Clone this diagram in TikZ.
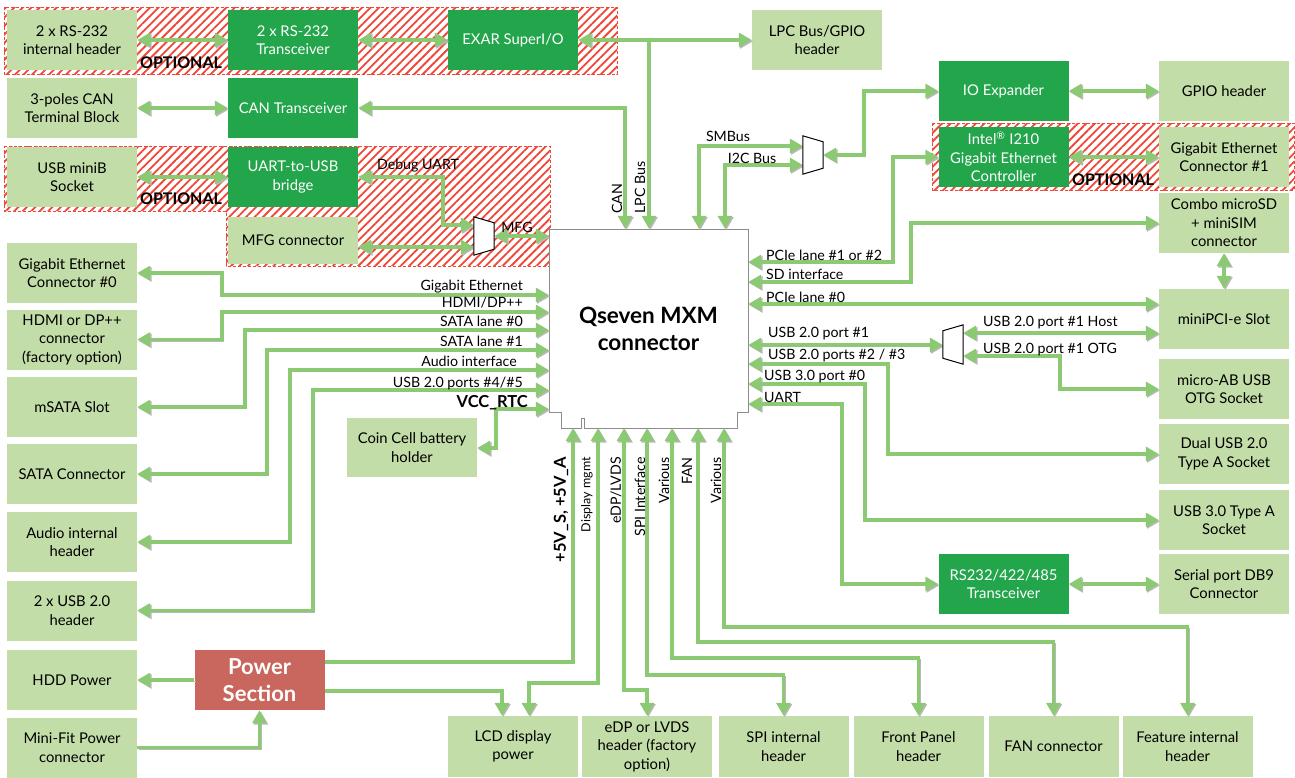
\documentclass[tikz,border=0pt]{standalone}
\usepackage{fontspec}
\setmainfont{Lato}
\usetikzlibrary{arrows.meta,patterns.meta}
\definecolor{lbox}{RGB}{195,221,168}
\definecolor{dbox}{RGB}{34,165,75}
\definecolor{agreen}{RGB}{140,201,115}
\definecolor{pred}{RGB}{201,102,94}
\definecolor{hred}{RGB}{240,70,55}
\tikzset{
 box/.style={minimum width=130pt, minimum height=60pt, inner sep=1pt, align=center, font=\fontsize{14.8}{18.5}\selectfont},
 lbx/.style={box, fill=lbox},
 dbx/.style={box, fill=dbox, text=white},
 conn/.style={draw=agreen, line width=3.6pt, preaction={draw=black!28, transform canvas={shift={(1.3,1.3)}}}},
 hatch/.style={pattern={Lines[angle=45,distance=6pt,line width=1.8pt]}, pattern color=hred},
 hatchborder/.style={draw=hred, dash pattern=on 3pt off 2pt, line width=1pt},
 muxs/.style={draw=black, line width=1pt, fill=white},
 lbl/.style={font=\fontsize{14.2}{16}\selectfont, inner sep=0pt},
 slbl/.style={font=\fontsize{12.5}{14}\selectfont, inner sep=0pt},
 blbl/.style={font=\fontsize{16.5}{18}\selectfont\bfseries, inner sep=0pt},
 opt/.style={font=\fontsize{16}{16}\selectfont\bfseries, inner sep=0pt},
}
\begin{document}
\begin{tikzpicture}[x=1pt,y=-1pt, >={Triangle[length=13pt,width=14pt]}]
\useasboundingbox (0,0) rectangle (1295,777);

% optional (hatched) regions
\path[hatch] (4,7) rectangle (617,74);
\path[hatch] (4,146) -- (550,146) -- (550,266) -- (226,266) -- (226,211) -- (4,211) -- cycle;
\path[hatch] (932,123) rectangle (1294,190);
\path[hatchborder] (4,7) rectangle (617,74);
\path[hatchborder] (4,146) -- (550,146) -- (550,266) -- (226,266) -- (226,211) -- (4,211) -- cycle;
\path[hatchborder] (932,123) rectangle (1294,190);

% left column
\node[lbx] (rsint) at (72,40) {2 x RS-232\\internal header};
\node[lbx] (canblk) at (72,108) {3-poles CAN\\Terminal Block};
\node[lbx] (usbminib) at (72,177) {USB miniB\\Socket};
\node[lbx] (gbe0) at (72,273) {Gigabit Ethernet\\Connector \#0};
\node[lbx] (hdmi) at (72,339.5) {HDMI or DP++\\connector\\(factory option)};
\node[lbx] (msata) at (72,407) {mSATA Slot};
\node[lbx] (sata) at (72,474) {SATA Connector};
\node[lbx] (audio) at (72,542) {Audio internal\\header};
\node[lbx] (usb2hdr) at (72,610.5) {2 x USB 2.0\\header};
\node[lbx] (hdd) at (72,680) {HDD Power};
\node[lbx] (minifit) at (72,747.5) {Mini-Fit Power\\connector};

% second column
\node[dbx] (rstr) at (293,40) {2 x RS-232\\Transceiver};
\node[dbx] (cantr) at (293,108) {CAN Transceiver};
\node[dbx] (bridge) at (293,177) {UART-to-USB\\bridge};
\node[lbx, minimum height=47pt] (mfgconn) at (293,240) {MFG connector};
\node[dbx] (exar) at (513,40) {EXAR SuperI/O};

% right side
\node[lbx] (lpchdr) at (817,40) {LPC Bus/GPIO\\header};
\node[dbx] (ioexp) at (1003.5,91) {IO Expander};
\node[lbx] (gpio) at (1224,91) {GPIO header};
\node[dbx] (intel) at (1003.5,157) {Intel\textsuperscript{®} I210\\Gigabit Ethernet\\Controller};
\node[lbx] (gbe1) at (1224,157) {Gigabit Ethernet\\Connector \#1};
\node[lbx] (combo) at (1224,223) {Combo microSD\\+ miniSIM\\connector};
\node[lbx] (minipci) at (1224,319) {miniPCI-e Slot};
\node[lbx] (microab) at (1224,389) {micro-AB USB\\OTG Socket};
\node[lbx] (dualusb) at (1224,454) {Dual USB 2.0\\Type A Socket};
\node[lbx] (usb3) at (1224,520) {USB 3.0 Type A\\Socket};
\node[lbx] (db9) at (1224,584) {Serial port DB9\\Connector};
\node[dbx] (rs232tr) at (1003.5,584) {RS232/422/485\\Transceiver};

% bottom row
\node[lbx, minimum height=61pt] (lcd) at (513,746.5) {LCD display\\power};
\node[lbx, minimum height=61pt] (edp) at (647,746.5) {eDP or LVDS\\header (factory\\option)};
\node[lbx, minimum height=61pt] (spi) at (783.5,746.5) {SPI internal\\header};
\node[lbx, minimum height=61pt] (front) at (918.5,746.5) {Front Panel\\header};
\node[lbx, minimum height=61pt] (fan) at (1053.5,746.5) {FAN connector};
\node[lbx, minimum height=61pt] (feature) at (1187.5,746.5) {Feature internal\\header};

\node[box, fill=pred, text=white, font=\fontsize{22}{26.5}\selectfont\bfseries] (power) at (259.5,680) {Power\\Section};
\node[lbx, minimum height=59pt] (coin) at (412,447.5) {Coin Cell battery\\holder};

% main connector
\path[draw=black!45, line width=1pt, fill=white] (549,229) -- (748,229) -- (748,412) -- (737,412) -- (737,428) -- (584,428) -- (584,418) -- (581,418) -- (581,428) -- (561,428) -- (561,412) -- (549,412) -- cycle;
\node[minimum width=199pt, minimum height=199pt, inner sep=0pt, align=center, font=\fontsize{22.5}{27}\selectfont\bfseries] (main) at (648.5,328.5) {Qseven MXM\\connector};

% multiplexers
\node[minimum width=20pt, minimum height=38pt, inner sep=0pt] (mfgmux) at (484,236) {};
\node[minimum width=20pt, minimum height=38pt, inner sep=0pt] (smbmux) at (813,155) {};
\node[minimum width=20pt, minimum height=39pt, inner sep=0pt] (usbmux) at (953,344.5) {};

% connectors: top
\draw[conn,<->] (rsint.east) -- (rstr.west);
\draw[conn,<->] (rstr.east) -- (exar.west);
\draw[conn,<->] (exar.east) -- (lpchdr.west);
\coordinate (lpcj) at (649,40);
\draw[conn,->] (lpcj) -- (main.north -| 649,0);
\draw[conn,<->] (canblk.east) -- (cantr.west);
\draw[conn,<->] (cantr.east) -| (main.north -| 625,0);
\draw[conn,<->] (usbminib.east) -- (bridge.west);
\draw[conn,<->] (bridge.east) -- (443,177) |- (mfgmux.west |- 0,225);
\draw[conn,<->] (mfgconn.east |- 0,247) -- (mfgmux.west |- 0,247);
\draw[conn,<->] (mfgmux.east) -- (main.west |- mfgmux.east);
\draw[conn,<->] (main.north -| 699,0) |- (smbmux.west |- 0,146);
\draw[conn,<->] (main.north -| 725,0) |- (smbmux.west |- 0,165);
\draw[conn,<->] (smbmux.east) -| (864,91) -- (ioexp.west);
\draw[conn,<->] (ioexp.east) -- (gpio.west);
\draw[conn,<->] (intel.east) -- (gbe1.west);

% connectors: right
\draw[conn,<->] (main.east |- 0,262) -| (893,157) -- (intel.west);
\draw[conn,<->] (main.east |- 0,282) -| (911,223) -- (combo.west);
\draw[conn,<->] (main.east |- 0,304) -- (minipci.west |- 0,304);
\draw[conn,<->] (combo.south) -- (minipci.north);
\draw[conn,<->] (main.east |- 0,345) -- (usbmux.west |- 0,345);
\draw[conn,<->] (usbmux.east |- 0,333) -- (minipci.west |- 0,333);
\draw[conn,<->] (usbmux.east |- 0,356) -| (1060,389) -- (microab.west);
\draw[conn,<->] (main.east |- 0,364) -| (888,454) -- (dualusb.west);
\draw[conn,<->] (main.east |- 0,384) -| (865,520) -- (usb3.west);
\draw[conn,<->] (main.east |- 0,404) -| (842,584) -- (rs232tr.west);
\draw[conn,<->] (rs232tr.east) -- (db9.west);

% connectors: left
\draw[conn,<->] (main.west |- 0,295) -| (222,273) -- (gbe0.east);
\draw[conn,<->] (main.west |- 0,312) -| (222,339.5) -- (hdmi.east);
\draw[conn,<->] (main.west |- 0,330) -| (245,407) -- (msata.east);
\draw[conn,<->] (main.west |- 0,350) -| (267,474) -- (sata.east);
\draw[conn,<->] (main.west |- 0,370) -| (290,542) -- (audio.east);
\draw[conn,<->] (main.west |- 0,390) -| (313,610.5) -- (usb2hdr.east);
\draw[conn,<->] (main.west |- 0,409) -| (496,448) -- (coin.east |- 0,448);

% connectors: bottom
\draw[conn,->] (power.west) -- (hdd.east);
\draw[conn,->] (minifit.east) -| (power.south);
\draw[conn,->] (power.east |- 0,662) -| (main.south -| 573,0);
\draw[conn,->] (power.east |- 0,691) -| (lcd.north -| 502,0);
\draw[conn,<->] (main.south -| 598,0) |- (529,683) -- (lcd.north -| 529,0);
\draw[conn,<->] (main.south -| 624,0) |- (647,690) -- (edp.north);
\draw[conn,<->] (main.south -| 647,0) |- (783.5,675) -- (spi.north);
\draw[conn,<->] (main.south -| 672,0) |- (918.5,658) -- (front.north);
\draw[conn,<->] (main.south -| 698,0) |- (1053.5,642) -- (fan.north);
\draw[conn,<->] (main.south -| 724,0) |- (1187.5,627) -- (feature.north);

% mux outlines
\draw[muxs] (mfgmux.north west) -- ([yshift=-6pt]mfgmux.north east) -- ([yshift=6pt]mfgmux.south east) -- (mfgmux.south west) -- cycle;
\draw[muxs] (smbmux.north west) -- ([yshift=-6pt]smbmux.north east) -- ([yshift=6pt]smbmux.south east) -- (smbmux.south west) -- cycle;
\draw[muxs] ([yshift=-6pt]usbmux.north west) -- (usbmux.north east) -- (usbmux.south east) -- ([yshift=6pt]usbmux.south west) -- cycle;

% labels
\node[opt] (opt1) at (181,63) {OPTIONAL};
\node[opt] (opt2) at (181,199) {OPTIONAL};
\node[opt] (opt3) at (1113,180) {OPTIONAL};

\node[lbl] (ldebug) at (418,166) {Debug UART};
\node[lbl] (lmfg) at (517,227) {MFG};
\node[lbl] (lsmb) at (728,136) {SMBus};
\node[lbl] (li2c) at (752,158) {I2C Bus};
\node[lbl, rotate=90, anchor=west] (lcan) at (617,214) {CAN};
\node[lbl, rotate=90, anchor=west] (llpc) at (640,214) {LPC Bus};

\node[lbl, anchor=west] (lpcie12) at (766,255) {PCIe lane \#1 or \#2};
\node[lbl, anchor=west] (lsd) at (766,274) {SD interface};
\node[lbl, anchor=west] (lpcie0) at (766,297) {PCIe lane \#0};
\node[lbl, anchor=west] (lusb1) at (768,334) {USB 2.0 port \#1};
\node[lbl, anchor=west] (lusb23) at (768,355) {USB 2.0 ports \#2 / \#3};
\node[lbl, anchor=west] (lusb30) at (764,377) {USB 3.0 port \#0};
\node[lbl, anchor=west] (luart) at (764,397) {UART};
\node[lbl, anchor=west] (lhost) at (983,323) {USB 2.0 port \#1 Host};
\node[lbl, anchor=west] (lotg) at (983,350) {USB 2.0 port \#1 OTG};

\node[lbl, anchor=east] (lgbe) at (523,287) {Gigabit Ethernet};
\node[lbl, anchor=east] (lhdmi) at (523,303) {HDMI/DP++};
\node[lbl, anchor=east] (lsata0) at (523,321) {SATA lane \#0};
\node[lbl, anchor=east] (lsata1) at (523,341) {SATA lane \#1};
\node[lbl, anchor=east] (laudio) at (517,361) {Audio interface};
\node[lbl, anchor=east] (lusb45) at (523,383) {USB 2.0 ports \#4/\#5};
\node[blbl, anchor=east] (lvcc) at (528,403) {VCC\_RTC};

\node[blbl, rotate=90, anchor=east] (l5v) at (561,457) {+5V\_S, +5V\_A};
\node[slbl, rotate=90, anchor=east] (ldisp) at (587,457) {Display mgmt};
\node[lbl, rotate=90, anchor=east] (ledp) at (616,457) {eDP/LVDS};
\node[lbl, rotate=90, anchor=east] (lspi) at (640,457) {SPI Interface};
\node[lbl, rotate=90, anchor=east] (lvar1) at (664,457) {Various};
\node[lbl, rotate=90, anchor=east] (lfan) at (687,457) {FAN};
\node[lbl, rotate=90, anchor=east] (lvar2) at (716,457) {Various};
\end{tikzpicture}
\end{document}
